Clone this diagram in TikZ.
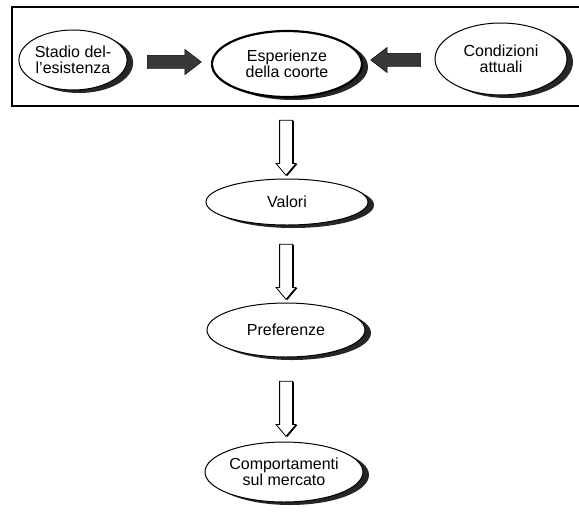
\documentclass[tikz,border=0pt]{standalone}
\usepackage{fontspec}
\setmainfont{Liberation Sans}
\usetikzlibrary{shapes.geometric,shapes.arrows,shadows}

\begin{document}
\begin{tikzpicture}[x=1pt, y=-1pt,
  ovale/.style={ellipse, draw, line width=1pt, fill=white, inner sep=0pt, align=center,
    font=\fontsize{16}{16}\selectfont,
    drop shadow={shadow xshift=6pt, shadow yshift=-3pt, fill=black!85, opacity=1}},
  pieno/.style={single arrow, draw, fill=black!78, inner xsep=0pt, inner ysep=6.5pt,
    single arrow head extend=6pt, single arrow tip angle=75},
  vuoto/.style={single arrow, draw, thick, fill=white, inner xsep=6pt, inner ysep=0pt,
    shape border rotate=270, minimum height=55pt,
    single arrow head extend=3.5pt, single arrow tip angle=80,
    drop shadow={shadow xshift=1.5pt, shadow yshift=-0.5pt, fill=black, opacity=1}}
]
\useasboundingbox (0,0) rectangle (579,515);
\fill[white] (0,0) rectangle (579,515);

% cornice in alto
\draw[line width=1.3pt] (12,7) rectangle (595,106);

\node[ovale, minimum width=102pt, minimum height=60pt] (stadio) at (73,60) {Stadio del-\\l'esistenza};
\node[ovale, line width=2.2pt, minimum width=150pt, minimum height=66pt,
  drop shadow={shadow xshift=0pt, shadow yshift=0pt, fill=white, opacity=0}] (esper) at (287,64) {Esperienze\\della coorte};
\node[ovale, minimum width=132pt, minimum height=72pt] (cond) at (501,59) {Condizioni\\attuali};

\node[pieno, minimum height=54pt] (fr) at (170,62) {};
\node[pieno, minimum height=50pt, shape border rotate=180] (fl) at (400,60) {};

% catena verticale
\node[ovale, minimum width=162pt, minimum height=46pt] (valori) at (287,202) {Valori};
\node[ovale, minimum width=158pt, minimum height=54pt] (pref) at (286,330) {Preferenze};
\node[ovale, minimum width=158pt, minimum height=60pt] (comp) at (284,472) {Comportamenti\\sul mercato};

\foreach \n/\y in {f1/144, f2/268, f3/405} {
  \node[vuoto] (\n) at (286,\y) {};
}
\end{tikzpicture}
\end{document}
